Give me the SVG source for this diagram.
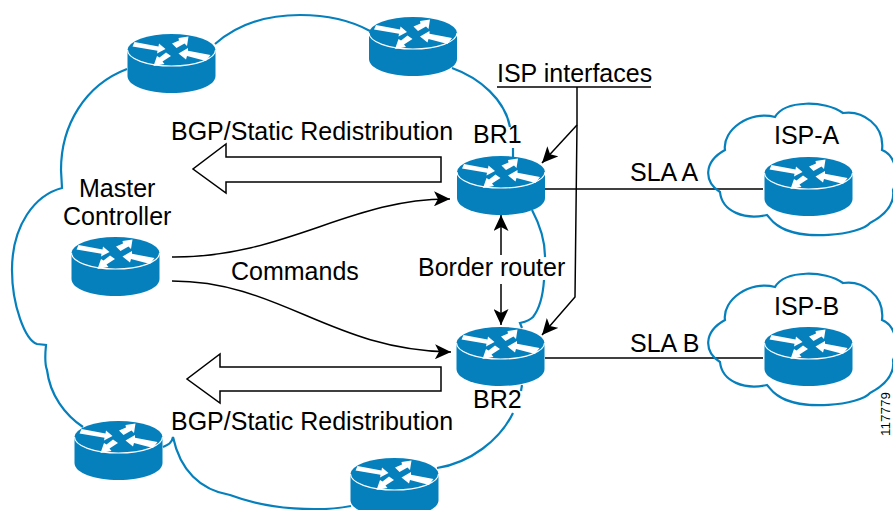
<svg xmlns="http://www.w3.org/2000/svg" width="893" height="510" viewBox="0 0 893 510">
<defs>
<g id="router">
<path d="M-44 0V26C-44 36 -24 43 0 43S44 36 44 26V0Z" fill="#0580bd"/>
<ellipse cx="0" cy="0" rx="44" ry="16" fill="#0580bd"/>
<path d="M-44 0A44 16 0 0 0 44 0" fill="none" stroke="#fff" stroke-width="1.200"/>
<path d="M-37 -8L-13 -3.500L-12.500 -6.500L-6 -1L-14.500 3.500L-14 0.800L-39 -3.500Z" fill="#fff"/>
<path d="M0.500 -6.500L7.500 -9.500L7 -12L17 -13.500L15.500 -4L13 -6.500L5 -2Z" fill="#fff"/>
<path d="M-5.500 2.500L-12 7.500L-14.500 6L-18 16L-7 14L-9 11.500L-0.500 6Z" fill="#fff"/>
<path d="M39 5L16.500 0.800L16.500 -2L7 3.500L14.500 9.500L15.500 6L34.500 11Z" fill="#fff"/>
</g>
<marker id="ah" viewBox="0 0 16 15" refX="16" refY="7.500" markerWidth="16" markerHeight="15" orient="auto-start-reverse" markerUnits="userSpaceOnUse"><path d="M0 0L16 7.500L0 15L4 7.500Z" fill="#000"/></marker>
</defs>
<style>
text{font-family:"Liberation Sans",Arial,sans-serif;font-size:25px;fill:#000}
.c{fill:none;stroke:#0580bd;stroke-width:2.200}
.k{fill:none;stroke:#000;stroke-width:1.500}
.b{fill:#fff;stroke:#000;stroke-width:1.500}
</style>
<g id="connectors">
<path class="c" d="M127 69C85 85 61 125 61 170L62 188C35 195 12 225 12 270C12 305 25 340 37 344L46 345C45 355 45 365 47 370C50 395 65 415 83 427"/>
<path class="c" d="M163 447C168 445 172 443 173 437C180 470 200 490 230 495C270 510 320 512 351 506"/>
<path class="c" d="M215 44C240 22 270 15 300 15C325 15 350 20 370 31"/>
<path class="c" d="M452 68C480 78 505 100 510 127"/>
<path class="c" d="M513 148V157"/>
<path class="c" d="M532 210C540 225 545 240 545 257"/>
<path class="c" d="M544 280C543 295 540 308 533 317C529 321 524 322 520 323L522 328"/>
<path class="c" d="M522 385L521 391"/>
<path class="c" d="M513 413C500 440 470 463 437 468"/>
<path class="k" d="M545 189H763"/>
<path class="k" d="M545 358H763"/>
<path class="k" d="M497 87H651"/>
<path class="k" d="M577 87V125" />
<path class="k" d="M577 125L542 163" marker-end="url(#ah)"/>
<path class="k" d="M577 125L575 297L542 335" marker-end="url(#ah)"/>
<path class="k" d="M172 257C285 258 350 198 450 199" marker-end="url(#ah)"/>
<path class="k" d="M172 281C280 281 330 350 451 352" marker-end="url(#ah)"/>
<path class="k" d="M501 255V215" marker-end="url(#ah)"/>
<path class="k" d="M501 284V325" marker-end="url(#ah)"/>
<path class="b" d="M441 157H226V144L193 169L226 193V182H441Z"/>
<path class="b" d="M441 367H220V354L187 379L220 403V391H441Z"/>
</g>
<g id="isp-a-cloud"><path class="c" d="M720 192C704 182 703 162 725 150C722 130 750 110 775 117C785 100 825 100 843 113C862 110 885 125 882 150C895 155 900 175 893 190C895 205 885 215 870 223C860 235 800 242 777 225C772 222 770 218 767 215C745 220 722 212 720 192Z"/></g>
<g id="isp-b-cloud"><path class="c" d="M720 362C704 352 703 332 725 320C722 300 750 280 775 287C785 270 825 270 843 283C862 280 885 295 882 320C895 325 900 345 893 360C895 375 885 385 870 393C860 405 800 412 777 395C772 392 770 388 767 385C745 390 722 382 720 362Z"/></g>
<g id="r1"><use href="#router" x="171.500" y="50"/></g>
<g id="r2"><use href="#router" x="413" y="33"/></g>
<g id="br1"><use href="#router" x="501" y="172"/></g>
<g id="br2"><use href="#router" x="500.500" y="343"/></g>
<g id="mc"><use href="#router" x="115.500" y="253"/></g>
<g id="r3"><use href="#router" x="118.500" y="437"/></g>
<g id="r4"><use href="#router" x="394.500" y="474"/></g>
<g id="ispa"><use href="#router" x="808.500" y="173"/></g>
<g id="ispb"><use href="#router" x="808.500" y="343"/></g>
<g id="labels">
<text x="171" y="140">BGP/Static Redistribution</text>
<text x="171" y="430">BGP/Static Redistribution</text>
<text x="497" y="82">ISP interfaces</text>
<text x="473" y="143">BR1</text>
<text x="473" y="408">BR2</text>
<text x="79" y="197">Master</text>
<text x="63" y="225">Controller</text>
<text x="231" y="280">Commands</text>
<text x="418" y="276">Border router</text>
<text x="630" y="181">SLA A</text>
<text x="630" y="352">SLA B</text>
<text x="774" y="144">ISP-A</text>
<text x="774" y="315">ISP-B</text>
<text transform="translate(889.500 436) rotate(-90)" style="font-size:13.500px">117779</text>
</g>
</svg>
